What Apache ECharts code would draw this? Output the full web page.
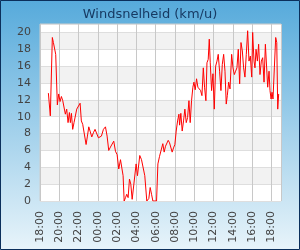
<!DOCTYPE html>
<html>
<head>
<meta charset="utf-8">
<script src="https://cdn.jsdelivr.net/npm/echarts@6/dist/echarts.min.js"></script>
<style>
html,body{margin:0;padding:0;background:#fff;}
#chart{width:300px;height:250px;}
</style>
</head>
<body>
<div id="chart"></div>
<script>
// Hours elapsed since 18:00 (first day)
const hoursSince1800 = [
0.87,1.07,1.28,1.39,1.49,1.63,1.80,1.94,2.08,2.22,2.36,2.49,2.63,2.77,2.91,3.05,3.15,3.26,3.39,3.53,3.67,3.81,3.98,4.16,4.29,4.43,4.57,4.78,4.92,5.06,5.19,5.37,5.54,5.71,5.89,6.06,
6.20,6.37,6.58,6.79,6.96,7.13,7.31,7.48,7.65,7.83,8.00,8.17,8.35,8.52,8.62,8.73,8.87,9.00,9.14,9.28,9.42,9.56,9.70,9.97,10.11,10.35,10.53,10.70,10.87,11.08,11.29,11.43,11.57,11.71,11.91,12.09,
12.23,12.40,12.57,12.74,12.88,13.02,13.16,13.30,13.44,13.58,13.71,13.85,13.99,14.13,14.27,14.41,14.48,14.61,14.75,14.89,15.03,15.17,15.31,15.45,15.58,15.72,15.86,15.97,16.10,16.24,16.38,16.52,16.66,16.80,16.94,17.07,17.21,17.32,17.45,17.56,17.66,17.80,17.94,18.08,18.22,18.36,18.49,
18.63,18.77,18.91,19.05,19.19,19.32,19.43,19.57,19.71,19.88,20.02,20.16,20.29,20.43,20.57,20.71,20.85,20.99,21.12,21.26,21.40,21.54,21.68,21.82,21.96,22.06,22.20,22.30,22.41,22.55,22.68,22.82,22.96,23.10,23.24,23.38,23.48,23.62,23.76,23.86,23.97,24.07,24.17,24.31,24.45,24.56,24.66,24.76
];
// Wind speed (km/u)
const windSpeed = [
12.8,10.1,19.4,18.8,18.8,17.4,11.4,12.7,11.8,12.4,11.9,12.1,10.3,10.9,9.3,10.5,9.3,10.4,8.5,9.3,9.1,10.9,11.1,11.6,9.5,9.1,9.3,6.7,7.7,8.8,8.3,7.6,8.1,8.5,8.6,7.5,
7.3,7.7,8.5,8.8,7.7,6.0,6.4,6.2,7.1,5.9,5.5,3.8,4.9,4.7,3.0,0,0.4,0.8,0.4,2.6,2.0,0.2,0,4.4,3.0,5.4,4.9,4.9,3.0,0,0.3,1.6,0.8,0,0,0,
4.4,5.3,5.2,6.8,5.8,6.5,6.3,7.2,6.9,6.7,5.8,6.3,6.7,8.3,9.5,10.3,9.0,10.4,8.3,9.5,10.9,9.3,9.9,11.9,9.3,11.9,13.5,14.1,13.2,14.5,13.5,13.3,13.1,12.5,15.8,13.5,11.9,16.4,16.8,19.2,16.4,13.1,15.1,10.9,16.0,16.6,17.4,
15.4,13.1,16.2,17.4,15.4,11.5,12.5,14.1,13.3,17.4,15.8,15.0,15.4,15.8,18.0,13.9,18.8,17.8,15.8,14.7,17.4,20.2,16.6,17.2,14.7,20.0,16.6,15.8,18.0,16.6,18.6,15.0,16.6,17.0,14.1,18.6,18.4,13.5,15.4,13.1,12.1,12.9,12.1,15.8,19.4,18.8,10.9,12.7
];
// X tick labels every 2 hours, starting at 18:00
const xTickLabels = ['18:00','20:00','22:00','00:00','02:00','04:00','06:00','08:00','10:00','12:00','14:00','16:00','18:00'];
const titleText = 'Windsnelheid (km/u)';

const chart = echarts.init(document.getElementById('chart'), null, {renderer:'canvas'});
const font = 'DejaVu Sans';
chart.setOption({
  animation:false,
  backgroundColor:{type:'linear',x:0,y:0,x2:0,y2:1,colorStops:[
    {offset:0,color:'#56aadb'},{offset:1,color:'#e8f4fa'}]},
  title:{text:titleText,left:'center',top:3,
    textStyle:{fontFamily:font,fontSize:13,fontWeight:'normal',color:'#173a63'}},
  grid:{left:40,top:24,right:19,bottom:49,show:true,borderColor:'#cccccc',borderWidth:1,backgroundColor:'#ffffff'},
  xAxis:{type:'value',min:0,max:25,interval:2,
    axisLine:{show:false},axisTick:{show:false},
    splitLine:{show:true,lineStyle:{color:'#c8c8c8',width:1}},
    axisLabel:{rotate:90,margin:10,fontFamily:font,fontSize:11,color:'#444',showMaxLabel:true,
      formatter:function(v){const i=v/2;return (Number.isInteger(i)&&i<xTickLabels.length)?xTickLabels[i]:'';}}},
  yAxis:{type:'value',min:0,max:21,interval:2,
    axisLine:{show:false},axisTick:{show:false},
    splitLine:{show:true,lineStyle:{color:'#dedede',width:1}},
    splitArea:{show:true,areaStyle:{color:['#ffffff','#f2f2f2']}},
    axisLabel:{margin:9,fontFamily:font,fontSize:11,color:'#444',
      formatter:function(v){return v%2===0?String(v):'';}}},
  series:[{type:'line',showSymbol:false,symbol:'none',
    data:hoursSince1800.map((h,i)=>[h,windSpeed[i]]),
    lineStyle:{color:'#ff0000',width:1},clip:true}],
  graphic:[{type:'rect',shape:{x:0.5,y:0.5,width:299,height:249},
    style:{fill:null,stroke:'#0b2f5b',lineWidth:1},z:100}]
});
</script>
</body>
</html>
